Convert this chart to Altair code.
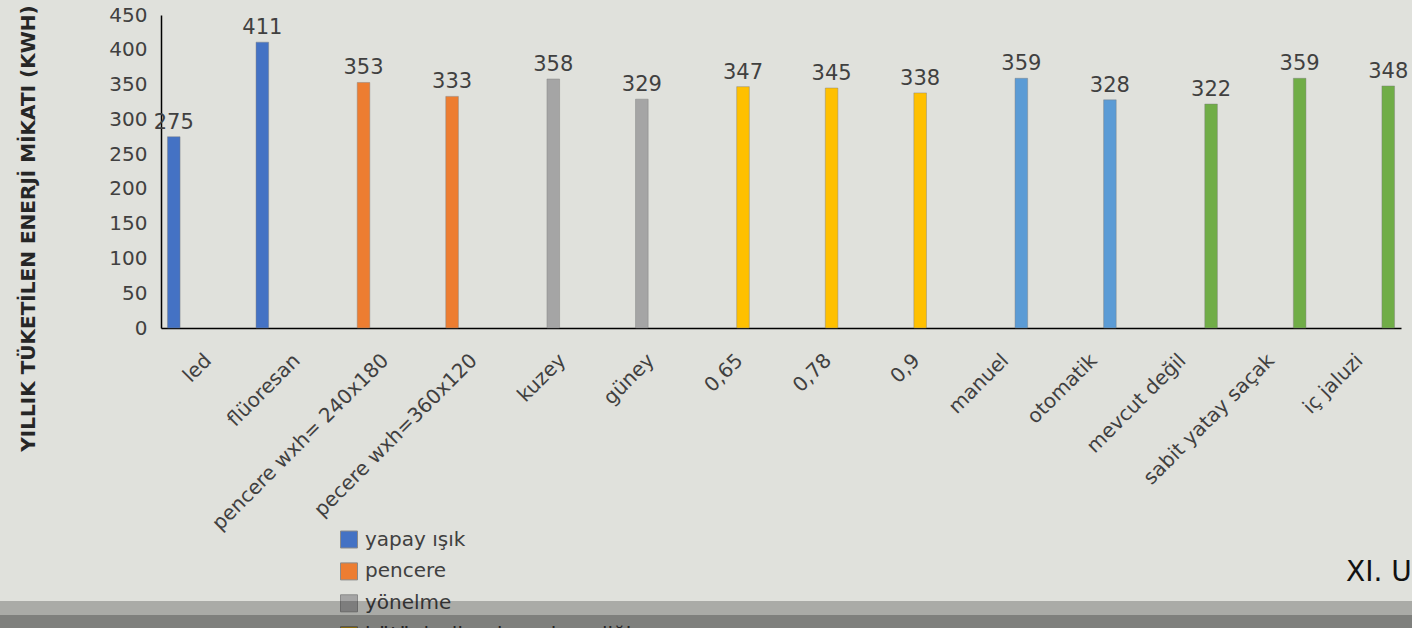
import altair as alt
import pandas as pd

# ---- data ----
categories = ["led", "flüoresan", "pencere wxh= 240x180", "pecere wxh=360x120",
              "kuzey", "güney", "0,65", "0,78", "0,9", "manuel", "otomatik",
              "mevcut değil", "sabit yatay saçak", "iç jaluzi"]
values = [275, 411, 353, 333, 358, 329, 347, 345, 338, 359, 328, 322, 359, 348]
series_names = ["yapay ışık", "pencere", "yönelme",
                "bütünleşik ışık geçirgenliği", "aydınlatma kontrolü", "gölgeleme"]
groups = ["yapay ışık", "yapay ışık", "pencere", "pencere", "yönelme", "yönelme",
          "bütünleşik ışık geçirgenliği", "bütünleşik ışık geçirgenliği",
          "bütünleşik ışık geçirgenliği", "aydınlatma kontrolü", "aydınlatma kontrolü",
          "gölgeleme", "gölgeleme", "gölgeleme"]
series_colors = ["#4472c4", "#ed7d31", "#a5a5a5", "#ffc000", "#5b9bd5", "#70ad47"]
y_ticks = [0, 50, 100, 150, 200, 250, 300, 350, 400, 450]
y_title = "YILLIK TÜKETİLEN ENERJİ MİKATI (KWH)"
corner_text = ["XI. U"]

df = pd.DataFrame({"category": categories, "value": values, "group": groups})
legend_df = pd.DataFrame({"group": series_names})
corner_df = pd.DataFrame({"t": corner_text})
one = pd.DataFrame({"k": [0]})

FONT = "DejaVu Sans"
TXT = "#404040"

x_enc = alt.X(
    "category:N", sort=categories,
    scale=alt.Scale(domain=categories, paddingInner=0.146, paddingOuter=0.073),
    axis=alt.Axis(title=None, labelAngle=-45, labelAlign="right", labelBaseline="middle",
                  labelPadding=29, labelOffset=3, ticks=False, tickSize=0,
                  domainColor="#000000", domainWidth=1.5, labelFont=FONT,
                  labelFontSize=20, labelColor=TXT, labelLimit=500),
)
xoff = alt.XOffset("group:N", sort=series_names, scale=alt.Scale(domain=series_names))
color_enc = alt.Color("group:N", scale=alt.Scale(domain=series_names, range=series_colors),
                      legend=None)

bars = alt.Chart(df).mark_bar(stroke="#7a7a7a", strokeWidth=0.6, strokeOpacity=0.7).encode(
    x=x_enc,
    xOffset=xoff,
    y=alt.Y("value:Q", scale=alt.Scale(domain=[0, 450], nice=False),
            axis=alt.Axis(values=y_ticks, title=y_title, ticks=False, tickSize=0, grid=False,
                          domainColor="#000000", domainWidth=1.5, labelFont=FONT,
                          labelFontSize=20, labelColor=TXT, labelPadding=14,
                          titleAngle=270, titleX=-133, titleY=213, titleFont=FONT,
                          titleFontSize=20, titleFontWeight="bold", titleColor="#262626",
                          titleAlign="center", titleBaseline="middle")),
    color=color_enc,
)

labels = alt.Chart(df).mark_text(baseline="alphabetic", dy=-8, font=FONT, fontSize=21,
                                 color=TXT).encode(
    x=x_enc,
    xOffset=xoff,
    y=alt.Y("value:Q", scale=alt.Scale(domain=[0, 450], nice=False), axis=None),
    text="value:Q",
)

leg_y = alt.Y("group:N", sort=series_names,
              scale=alt.Scale(type="point", domain=series_names, range=[524.5, 684], padding=0),
              axis=None)
leg_sq = alt.Chart(legend_df).mark_square(size=289, filled=True, opacity=1,
                                          stroke="#8a8a8a", strokeWidth=1).encode(
    x=alt.value(188), y=leg_y, color=color_enc)
leg_tx = alt.Chart(legend_df).mark_text(align="left", baseline="middle", font=FONT,
                                        fontSize=20, color=TXT).encode(
    x=alt.value(204), y=leg_y, text="group:N")

corner = alt.Chart(corner_df).mark_text(align="left", baseline="middle", font=FONT,
                                        fontSize=28, color="#111111").encode(
    x=alt.value(1185), y=alt.value(558), text="t:N")

band1 = alt.Chart(one).mark_rect(color="#000000", opacity=0.24).encode(
    x=alt.value(-161), x2=alt.value(1251), y=alt.value(586), y2=alt.value(600))
band2 = alt.Chart(one).mark_rect(color="#000000", opacity=0.43).encode(
    x=alt.value(-161), x2=alt.value(1251), y=alt.value(600), y2=alt.value(613))

chart = alt.layer(bars, labels, leg_sq, leg_tx, corner, band1, band2).resolve_scale(
    y="independent"
).properties(
    width=1240, height=313,
    background="#e0e1dc",
    padding={"left": 161, "top": 15, "right": 11, "bottom": 300},
    autosize=alt.AutoSizeParams(type="none"),
).configure_view(stroke=None)

chart.save("out.html", embed_options={"renderer": "svg", "actions": False})
